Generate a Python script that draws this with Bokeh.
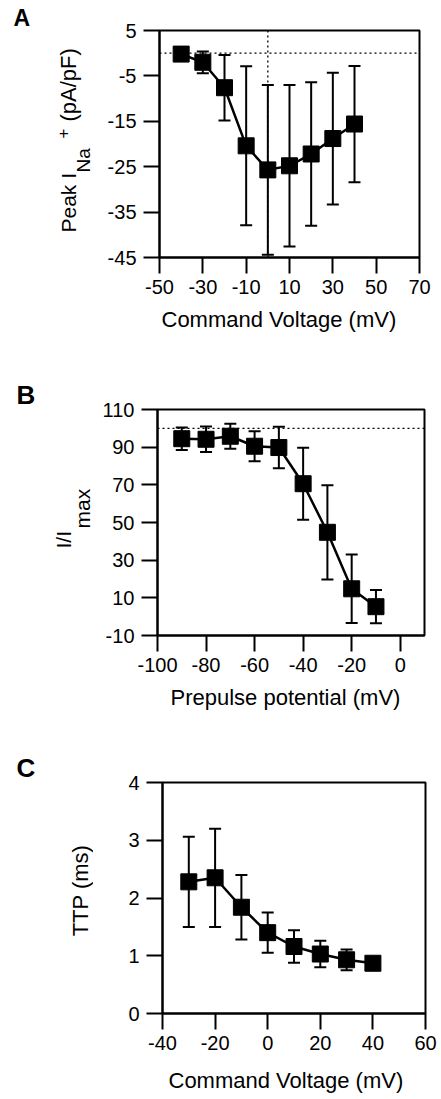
import math
from bokeh.plotting import figure
from bokeh.models import Range1d, FixedTicker, Whisker, TeeHead, ColumnDataSource, Span, Label, Title
from bokeh.layouts import column, row
from bokeh.embed import file_html
from bokeh.resources import INLINE

# ---------------- data ----------------
# Panel A: peak Na+ current density vs command voltage
a_voltage = [-40, -30, -20, -10, 0, 10, 20, 30, 40]
a_current = [-0.2, -2.0, -7.6, -20.4, -25.7, -24.8, -22.2, -18.8, -15.6]
a_error = [0.3, 2.4, 7.2, 17.5, 18.7, 17.8, 15.8, 14.5, 12.8]
a_xticks = [-50, -30, -10, 10, 30, 50, 70]
a_yticks = [5, -5, -15, -25, -35, -45]

# Panel B: steady-state inactivation I/Imax vs prepulse potential
b_prepulse = [-90, -80, -70, -60, -50, -40, -30, -20, -10]
b_rel = [94.5, 94.2, 95.8, 90.5, 89.8, 70.6, 44.8, 14.8, 5.3]
b_error = [6.0, 6.8, 6.6, 8.0, 11.0, 19.1, 25.0, 18.2, 8.8]
b_xticks = [-100, -80, -60, -40, -20, 0]
b_yticks = [-10, 10, 30, 50, 70, 90, 110]

# Panel C: time to peak vs command voltage
c_voltage = [-30, -20, -10, 0, 10, 20, 30, 40]
c_ttp = [2.28, 2.35, 1.84, 1.40, 1.16, 1.03, 0.93, 0.87]
c_error = [0.78, 0.85, 0.56, 0.35, 0.28, 0.23, 0.18, 0.08]
c_xticks = [-40, -20, 0, 20, 40, 60]
c_yticks = [0, 1, 2, 3, 4]

FONT = "Liberation Sans"
TEXT_W = 93      # width of the left text column (page px)
TOTAL_W = 441


def make_panel(xs, ys, errs, xr, yr, xticks, yticks, frame, fig_top, fig_bottom,
               xlabel, xlabel_size, xlabel_left, xlabel_standoff):
    fl, ft, fw, fh = frame
    p = figure(title=None, output_backend="svg", toolbar_location=None,
               frame_width=fw, frame_height=fh,
               min_border_left=fl - TEXT_W, min_border_top=ft - fig_top,
               min_border_right=TOTAL_W - fl - fw,
               min_border_bottom=fig_bottom - (ft + fh),
               x_range=Range1d(xr[0], xr[1]), y_range=Range1d(yr[0], yr[1]))
    p.grid.visible = False
    p.outline_line_color = "black"
    p.outline_line_width = 2
    p.outline_line_alpha = 1
    p.background_fill_color = "white"
    p.border_fill_color = "white"
    for ax, ticks in ((p.xaxis[0], xticks), (p.yaxis[0], yticks)):
        ax.ticker = FixedTicker(ticks=ticks)
        ax.major_label_overrides = {t: str(t) for t in ticks}
        ax.axis_line_width = 2
        ax.axis_line_color = "black"
        ax.major_tick_line_width = 2
        ax.major_tick_line_color = "black"
        ax.major_tick_in = 0
        ax.major_tick_out = 16
        ax.minor_tick_line_color = None
        ax.major_label_text_font = FONT
        ax.major_label_text_font_size = "20px"
        ax.major_label_text_color = "black"
        ax.major_label_standoff = 6
    p.yaxis[0].major_label_standoff = 7
    # x-axis title, placed below the tick labels (slightly left of centre, as in the original)
    p.add_layout(Title(text=xlabel, align="left", offset=xlabel_left - fl,
                       vertical_align="top", standoff=xlabel_standoff,
                       text_font=FONT, text_font_size=f"{xlabel_size}px",
                       text_font_style="normal", text_color="black"), "below")

    upper = [m + e for m, e in zip(ys, errs)]
    lower = [m - e for m, e in zip(ys, errs)]
    src = ColumnDataSource(dict(x=xs, y=ys, upper=upper, lower=lower))
    p.line("x", "y", source=src, line_color="black", line_width=2.5)
    p.add_layout(Whisker(source=src, base="x", upper="upper", lower="lower",
                         line_color="black", line_width=2,
                         upper_head=TeeHead(size=12, line_color="black", line_width=2),
                         lower_head=TeeHead(size=12, line_color="black", line_width=2)))
    p.scatter("x", "y", source=src, marker="square", size=16,
              fill_color="black", line_color="black")
    return p


def make_text_column(frame, fig_top, fig_bottom, letter, letter_x, letter_size):
    """Left-hand text strip whose frame lines up with the panel's frame;
    its data coordinates are page pixels (y downward)."""
    fl, ft, fw, fh = frame
    t = figure(title=None, output_backend="svg", toolbar_location=None,
               frame_width=TEXT_W, frame_height=fh,
               min_border_left=0, min_border_right=0,
               min_border_top=ft - fig_top, min_border_bottom=fig_bottom - (ft + fh),
               x_range=Range1d(0, TEXT_W), y_range=Range1d(ft + fh, ft),
               x_axis_type=None, y_axis_type=None)
    t.grid.visible = False
    t.outline_line_color = None
    t.background_fill_color = "white"
    t.border_fill_color = "white"
    t.add_layout(Title(text=letter, align="left", offset=letter_x, standoff=0,
                       text_font=FONT, text_font_size=f"{letter_size}px",
                       text_font_style="bold", text_color="black"), "above")

    def add_text(text, px, py, size, angle=0.0, align="left"):
        t.add_layout(Label(x=px, y=py, text=text, angle=angle, angle_units="rad",
                           text_align=align, text_baseline="alphabetic",
                           text_font=FONT, text_font_size=f"{size}px",
                           text_color="black"))
    return t, add_text


UP = math.pi / 2

# Panel A
frameA = (159, 30, 260, 227)
pA = make_panel(a_voltage, a_current, a_error, (-50, 70), (-45, 5), a_xticks, a_yticks,
                frameA, 0, 366, "Command Voltage (mV)", 22, 161, 20)
pA.add_layout(Span(location=0, dimension="width", line_color="black", line_width=1.3, line_dash="2 3"))
pA.add_layout(Span(location=0, dimension="height", line_color="black", line_width=1.3, line_dash="2 3"))
tA, txA = make_text_column(frameA, 0, 366, "A", 13, 23)
txA("Peak I", 68, 232, 21, angle=UP)
txA("Na", 83, 172, 19, angle=UP)
txA("+", 62.5, 138, 17, angle=UP)
txA("(pA/pF)", 68, 121, 22, angle=UP)

# Panel B
frameB = (157, 409, 267, 226)
pB = make_panel(b_prepulse, b_rel, b_error, (-100, 10), (-10, 110), b_xticks, b_yticks,
                frameB, 366, 728, "Prepulse potential (mV)", 22, 170, 20)
pB.add_layout(Span(location=100, dimension="width", line_color="black", line_width=1.3, line_dash="2 3"))
tB, txB = make_text_column(frameB, 366, 728, "B", 16, 26)
txB("I/I", 63, 548, 21, angle=UP)
txB("max", 82, 528, 21, angle=UP)

# Panel C
frameC = (162, 782, 263, 231)
pC = make_panel(c_voltage, c_ttp, c_error, (-40, 60), (0, 4), c_xticks, c_yticks,
                frameC, 728, 1099, "Command Voltage (mV)", 22, 168, 30)
tC, txC = make_text_column(frameC, 728, 1099, "C", 16, 26)
txC("TTP (ms)", 80, 890, 22, angle=UP, align="center")

layout = column(row(tA, pA), row(tB, pB), row(tC, pC))
open("out.html", "w").write(file_html(layout, INLINE))
